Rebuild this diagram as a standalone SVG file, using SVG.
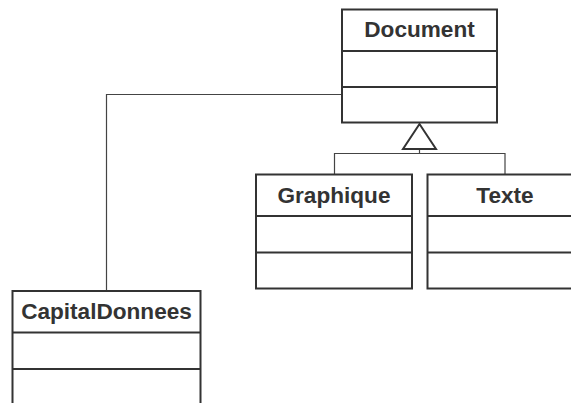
<svg xmlns="http://www.w3.org/2000/svg" width="571" height="403" viewBox="0 0 571 403">
<style>
.box{fill:#fff;stroke:#333;stroke-width:2}
.div{stroke:#333;stroke-width:2}
.conn{fill:none;stroke:#444;stroke-width:1.2}
.tri{fill:#fff;stroke:#333;stroke-width:2}
.lbl{font-family:"Liberation Sans",Arial,sans-serif;font-weight:bold;font-size:22.6px;fill:#333;text-anchor:middle}
</style>
<rect width="571" height="403" fill="#fff"/>
<g id="connectors">
<polyline class="conn" points="342,94.5 106.5,94.5 106.5,291"/>
<polyline class="conn" points="334.5,174 334.5,153.5 505,153.5 505,174"/>
<line class="conn" x1="419.5" y1="149" x2="419.5" y2="153.5"/>
<polygon class="tri" points="419.5,124 403,149 436,149"/>
</g>
<g id="Document">
<rect class="box" x="342" y="9.5" width="155" height="113"/>
<line class="div" x1="342" y1="51" x2="497" y2="51"/>
<line class="div" x1="342" y1="87" x2="497" y2="87"/>
<text class="lbl" x="419.5" y="36.7">Document</text>
</g>
<g id="Graphique">
<rect class="box" x="256" y="174.5" width="156" height="114"/>
<line class="div" x1="256" y1="216" x2="412" y2="216"/>
<line class="div" x1="256" y1="252.5" x2="412" y2="252.5"/>
<text class="lbl" x="334" y="203.3">Graphique</text>
</g>
<g id="Texte">
<rect class="box" x="427.5" y="174.5" width="156" height="114"/>
<line class="div" x1="427.5" y1="216" x2="583.5" y2="216"/>
<line class="div" x1="427.5" y1="252.5" x2="583.5" y2="252.5"/>
<text class="lbl" x="505" y="203.3">Texte</text>
</g>
<g id="CapitalDonnees">
<rect class="box" x="12.5" y="291" width="188" height="130"/>
<line class="div" x1="12.5" y1="332.5" x2="200.5" y2="332.5"/>
<line class="div" x1="12.5" y1="369" x2="200.5" y2="369"/>
<text class="lbl" x="106.5" y="319.3">CapitalDonnees</text>
</g>
</svg>
